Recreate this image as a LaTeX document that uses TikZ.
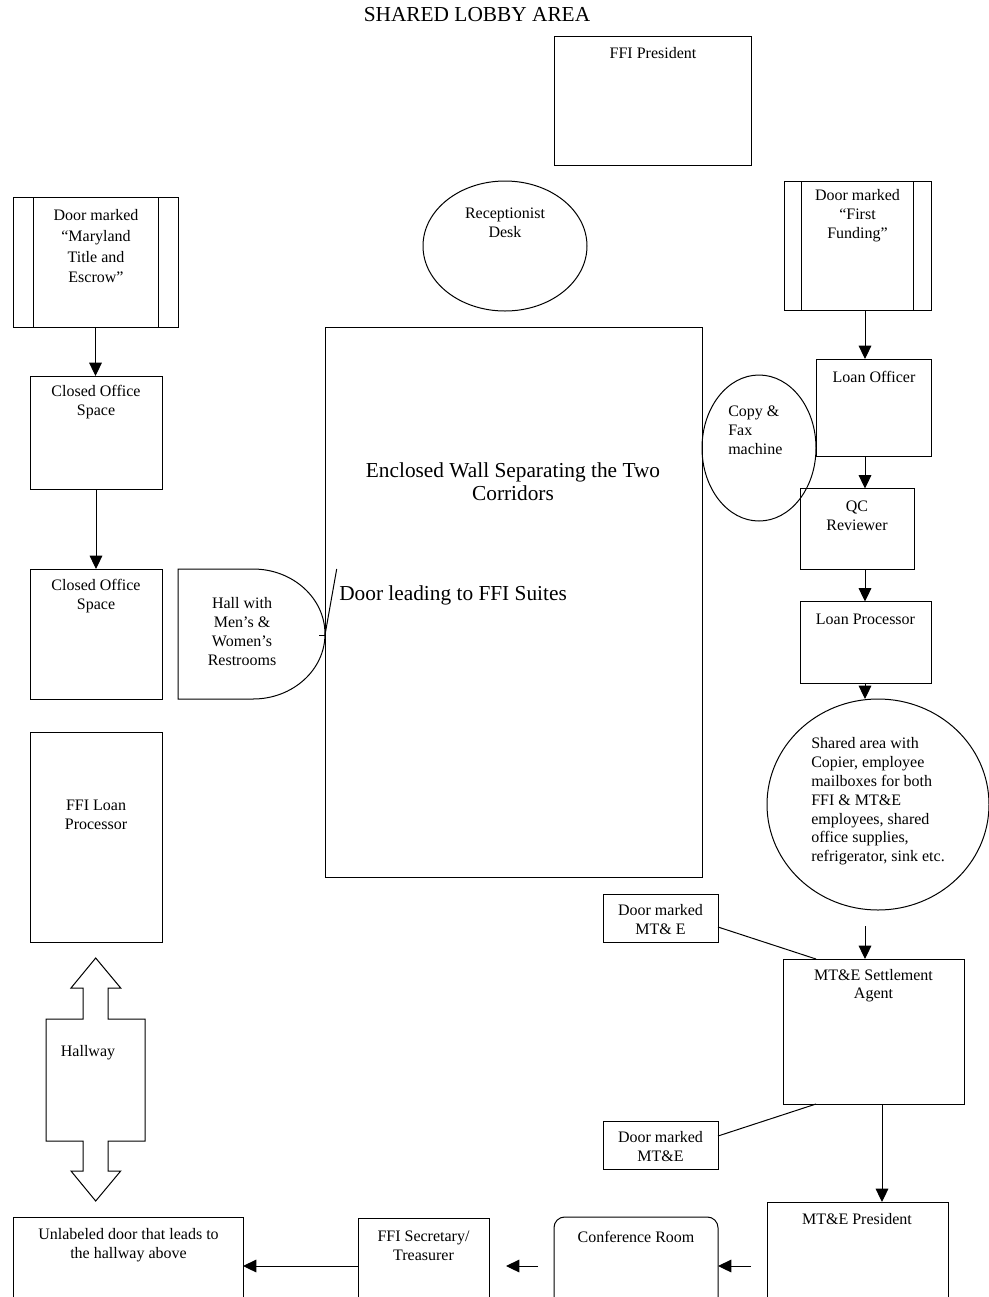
\documentclass[tikz,border=0pt]{standalone}
\usepackage{fontspec}
\setmainfont{Liberation Serif}
\usetikzlibrary{fit,calc,shapes.geometric,arrows.meta}
\begin{document}
\begin{tikzpicture}[x=0.75pt,y=-0.75pt,
  line/.style={line width=0.75pt,draw=black},
  box/.style={line,inner sep=0pt,outer sep=0pt},
  oval/.style={line,ellipse,inner sep=0pt,outer sep=0pt},
  arr/.style={line,-{Triangle[length=10pt,width=9.5pt]}},
  txt/.style={font=\fontsize{12}{14.25}\selectfont,align=center,inner sep=0pt},
  bigtxt/.style={font=\fontsize{16}{17.5}\selectfont,align=center,inner sep=0pt}]
\clip (0,0) rectangle (989,1297);
\fill[white] (0,0) rectangle (989,1297);

% title and top
\node[bigtxt] (title) at (477,15) {SHARED LOBBY AREA};
\node[box,fit={(554,36) (751,165)}] (ffip) {};
\node[txt] (ffipt) at (653,53) {FFI President};
\node[oval,minimum width=123pt,minimum height=97.5pt] (rec) at (505,246) {};
\node[txt] (rect) at (505,223) {Receptionist\\Desk};

% central wall
\node[box,fit={(325,327) (702,877)}] (wall) {};
\node[bigtxt] (wallt) at (513,482) {Enclosed Wall Separating the Two\\Corridors};

% left column
\node[box,fit={(13,197) (178,327)}] (md) {};
\draw[line] ($(md.north west)+(20,0)$) -- ($(md.south west)+(20,0)$);
\draw[line] ($(md.north east)+(-20,0)$) -- ($(md.south east)+(-20,0)$);
\node[txt,font=\fontsize{12}{15.5}\selectfont] (mdt) at (96,246.5) {Door marked\\“Maryland\\Title and\\Escrow”};

\node[box,fit={(30,376) (162,489)}] (co1) {};
\node[txt] (co1t) at (96,402.5) {Closed Office\\Space};
\node[box,fit={(30,569) (162,699)}] (co2) {};
\node[txt] (co2t) at (96,596.5) {Closed Office\\Space};

% hall with restrooms (D shape)
\draw[line] (178,569) -- (253,569) arc[start angle=90,end angle=-90,x radius=54pt,y radius=48.75pt] -- (178,699) -- cycle;
\coordinate (hallR) at (325,635);
\node[txt] (hallt) at (242,632) {Hall with\\Men’s \&\\Women’s\\Restrooms};

% door leading to FFI suites
\coordinate (doortop) at (336.7,569);
\draw[line] (hallR) -- (doortop);
\draw[line] ($(hallR)+(-6,0)$) -- (hallR);
\node[bigtxt,anchor=west] (doort) at (339,595) {Door leading to FFI Suites};

\node[box,fit={(30,732) (162,942)}] (flp) {};
\node[txt] (flpt) at (96,814.5) {FFI Loan\\Processor};

% hallway double arrow
\draw[line] (95.7,958) -- (120.7,988) -- (108,988) -- (108,1019) -- (145,1019) -- (145,1141)
  -- (108,1141) -- (108,1171) -- (120.7,1171) -- (95.7,1201) -- (71,1171) -- (83,1171)
  -- (83,1141) -- (46,1141) -- (46,1019) -- (83,1019) -- (83,988) -- (71,988) -- cycle;
\node[txt] (hallway) at (88,1053) {Hallway};

% bottom row
\node[box,fit={(13,1217) (243,1315)}] (ul) {};
\node[txt] (ult) at (128.5,1245.5) {Unlabeled door that leads to\\the hallway above};
\node[box,fit={(358,1218) (489,1314)}] (sec) {};
\node[txt] (sect) at (423.5,1246) {FFI Secretary/\\Treasurer};
\node[box,rounded corners=8pt,fit={(554,1217) (718,1315)}] (conf) {};
\node[txt] (conft) at (636,1237) {Conference Room};
\node[box,fit={(767,1202) (948,1330)}] (mp) {};
\node[txt] (mpt) at (857,1219) {MT\&E President};

% right column
\node[box,fit={(784,181) (931,310.5)}] (ff) {};
\draw[line] ($(ff.north west)+(17,0)$) -- ($(ff.south west)+(17,0)$);
\draw[line] ($(ff.north east)+(-18,0)$) -- ($(ff.south east)+(-18,0)$);
\node[txt] (fft) at (857.5,216) {Door marked\\“First\\Funding”};

\node[box,fit={(816,359) (931,456)}] (lo) {};
\node[txt] (lot) at (874,377) {Loan Officer};
\node[oval,minimum width=85.5pt,minimum height=109.5pt] (cf) at (759,448) {};
\node[txt,align=left,anchor=west] (cft) at (728,430.5) {Copy \&\\Fax\\machine};
\node[box,fit={(800,488.5) (914,569.5)}] (qc) {};
\node[txt] (qct) at (857,516) {QC\\Reviewer};
\node[box,fit={(800,601.5) (931,683)}] (lp) {};
\node[txt] (lpt) at (865.5,619) {Loan Processor};

\node[oval,minimum width=166.5pt,minimum height=158.25pt] (sh) at (878,804.5) {};
\node[txt,align=left,anchor=west,font=\fontsize{12}{14.1}\selectfont] (sht) at (811,801.5)
  {Shared area with\\Copier, employee\\mailboxes for both\\FFI \& MT\&E\\employees, shared\\office supplies,\\refrigerator, sink etc.};

\node[box,fit={(603,894) (718,942)}] (d1) {};
\node[txt] (d1t) at (660.5,920) {Door marked\\MT\& E};
\node[box,fit={(783,959) (964,1104)}] (sa) {};
\node[txt,font=\fontsize{12}{13}\selectfont] (sat) at (873.5,985.5) {MT\&E Settlement\\Agent};
\node[box,fit={(603,1121) (718,1169)}] (d2) {};
\node[txt] (d2t) at (660.5,1146.5) {Door marked\\MT\&E};

% connectors
\coordinate (axis) at (865,0);
\draw[arr] (md.south) -- (md.south |- co1.north);
\draw[arr] (co1.south) -- (co1.south |- co2.north);
\draw[arr] (ff.south -| axis) -- (lo.north -| axis);
\draw[arr] (lo.south -| axis) -- (qc.north -| axis);
\draw[arr] (qc.south -| axis) -- (lp.north -| axis);
\draw[arr] (lp.south -| axis) -- (sh.north -| axis);
\coordinate (sastart) at (865,926);
\draw[arr] (sastart) -- (sastart |- sa.north);
\draw[line] ($(d1.east)+(0,9)$) -- ($(sa.north west)+(33,0)$);
\draw[line] ($(d2.east)+(0,-9)$) -- ($(sa.south west)+(33,0)$);
\draw[arr] ($(sa.south west)+(99,0)$) -- ($(mp.north west)+(115,0)$);
\draw[arr] ($(mp.west)+(-16,0)$) -- (conf.east);
\draw[arr] ($(conf.west)+(-16,0)$) -- ($(sec.east)+(17,0)$);
\draw[arr] (sec.west) -- (ul.east);
\end{tikzpicture}
\end{document}
